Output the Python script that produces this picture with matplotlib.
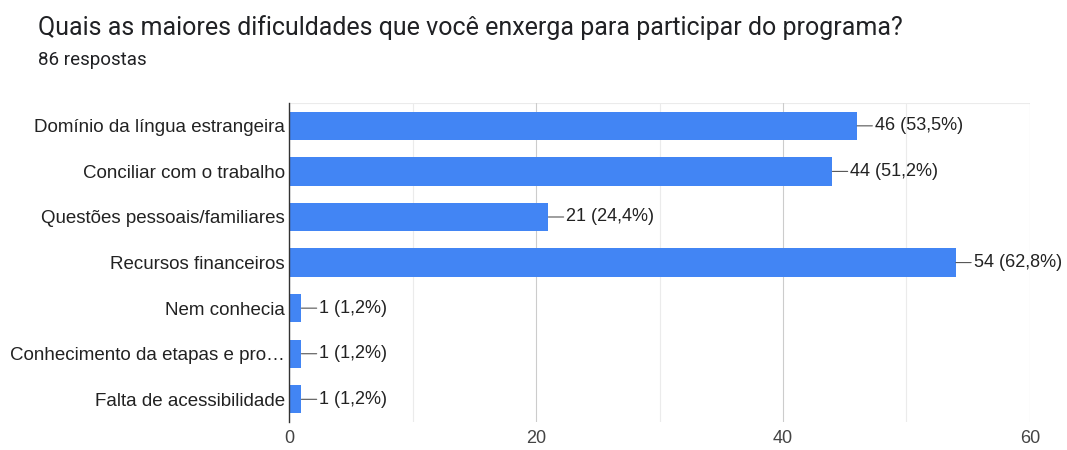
import matplotlib.pyplot as plt

plt.rcParams['font.family'] = ['Liberation Sans', 'DejaVu Sans']

categories = [
    'Domínio da língua estrangeira',
    'Conciliar com o trabalho',
    'Questões pessoais/familiares',
    'Recursos financeiros',
    'Nem conhecia',
    'Conhecimento da etapas e pro…',
    'Falta de acessibilidade',
]
counts = [46, 44, 21, 54, 1, 1, 1]
percents = ['53,5%', '51,2%', '24,4%', '62,8%', '1,2%', '1,2%', '1,2%']
total = 86

fig = plt.figure(figsize=(10.67, 4.5), dpi=100)
ax = fig.add_axes([0.2709, 0.062, 0.6944, 0.709])

ypos = list(range(len(categories)))
ax.barh(ypos, counts, height=0.62, color='#4285F4', zorder=3)

for y, c, p in zip(ypos, counts, percents):
    ax.annotate(f'{c} ({p})', xy=(c, y), xytext=(13, 0), textcoords='offset points',
                va='center', ha='left', fontsize=13, color='#222222',
                arrowprops=dict(arrowstyle='-', color='#555555', lw=0.8,
                                shrinkA=0, shrinkB=0))

ax.set_xlim(0, 60)
ax.set_ylim(len(categories) - 0.5, -0.5)
ax.set_xticks([0, 20, 40, 60])
ax.set_xticks([10, 30, 50], minor=True)
ax.set_yticks(ypos)
ax.set_yticklabels(categories)
ax.grid(axis='x', which='major', color='#cccccc', lw=0.8, zorder=0)
ax.grid(axis='x', which='minor', color='#ebebeb', lw=0.8, zorder=0)
ax.tick_params(axis='y', length=0, pad=3, labelsize=13.5, labelcolor='#222222')
ax.tick_params(axis='x', which='both', length=0, pad=6, labelsize=13, labelcolor='#444444')
for s in ['top', 'right', 'bottom']:
    ax.spines[s].set_visible(False)
ax.spines['left'].set_color('#333333')
ax.spines['left'].set_linewidth(1.0)
ax.spines['left'].set_zorder(4)
ax.axhline(-0.5, color='#ebebeb', lw=0.8, zorder=0)

fig.text(38 / 1067, 1 - 28 / 450, 'Quais as maiores dificuldades que você enxerga para participar do programa?',
         fontsize=18, color='#202124', va='center', ha='left', family=['Roboto', 'DejaVu Sans'])
fig.text(38 / 1067, 1 - 60 / 450, f'{total} respostas', fontsize=13.5, color='#202124',
         va='center', ha='left', family=['Roboto', 'DejaVu Sans'])

fig.savefig('out.png', dpi=100)
